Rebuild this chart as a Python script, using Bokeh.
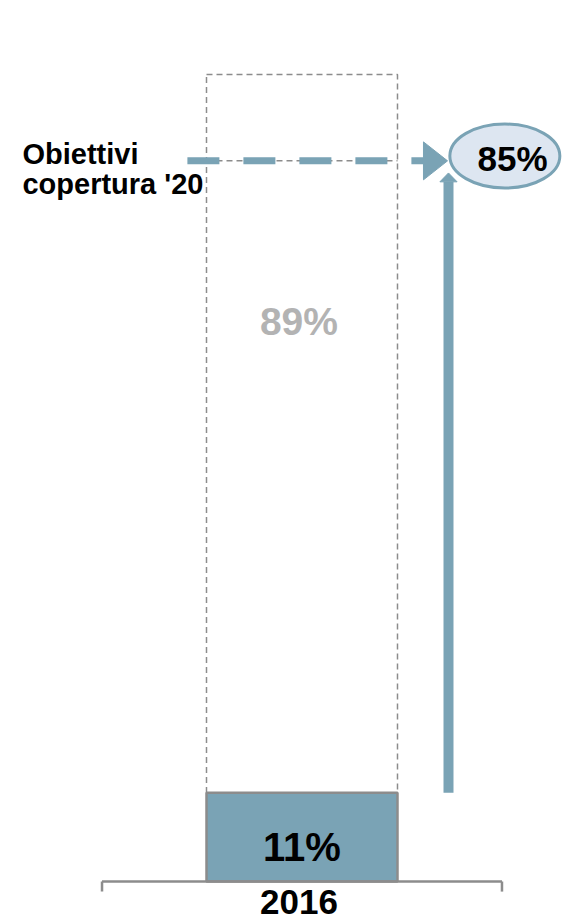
from bokeh.plotting import figure
from bokeh.models import Range1d
from bokeh.embed import file_html
from bokeh.resources import INLINE
from bokeh.core.properties import value

# ---------------- data ----------------
categories = ["2016"]
covered = [11]            # % coperto 2016
remaining = [89]          # % da coprire
target = [85]             # obiettivo copertura 2020
covered_labels = ["11%"]
remaining_labels = ["89%"]
target_labels = ["85%"]
side_label = ["Obiettivi", "copertura '20"]

# ---------------- layout / style constants ----------------
W, H = 563, 922
FONT = value("Liberation Sans")
TEAL = "#7aa3b5"
GREY = "#8c8c8c"

BAR_X = 0.0
BAR_W = 1.0
TARGET_LINE_Y = 89.3      # drawn level of the target marker
AXIS_HALF = 1.047
TICK_LEN = 1.25
LINE_X0 = -0.60
HEAD_X0 = 0.636
HEAD_X1 = 0.762
HEAD_HALF = 2.35
VARROW_X = 0.767
VHEAD_BASE = 86.7
VHEAD_TIP = 87.8
VHEAD_HALF = 0.045
ELL_X, ELL_Y = 1.062, 89.9

p = figure(width=W, height=H, output_backend="svg", toolbar_location=None,
           x_range=Range1d(-1.5785, 1.3691), y_range=Range1d(-5.08, 109.17),
           min_border=0, outline_line_color=None)
p.axis.visible = False
p.grid.visible = False
p.background_fill_color = "white"
p.border_fill_color = "white"

# dashed outline of the remaining part
p.vbar(x=[BAR_X], bottom=covered, top=[c + r for c, r in zip(covered, remaining)],
       width=BAR_W, fill_alpha=0, line_color=GREY, line_width=1.5, line_dash="6 4")
# thin grey dashed line inside the box at the target level
p.segment(x0=[BAR_X - BAR_W / 2], x1=[BAR_X + BAR_W / 2], y0=[TARGET_LINE_Y], y1=[TARGET_LINE_Y],
          line_color=GREY, line_width=1.5, line_dash="6 4")

# filled covered bar
p.vbar(x=[BAR_X], bottom=[0], top=covered, width=BAR_W, fill_color=TEAL,
       line_color=GREY, line_width=2.5)

# baseline axis with end ticks
p.segment(x0=[-AXIS_HALF], x1=[AXIS_HALF], y0=[0], y1=[0], line_color=GREY, line_width=2.5)
p.segment(x0=[-AXIS_HALF, AXIS_HALF], x1=[-AXIS_HALF, AXIS_HALF], y0=[0, 0],
          y1=[-TICK_LEN, -TICK_LEN], line_color=GREY, line_width=2.5)

# target dashed arrow
p.segment(x0=[LINE_X0], x1=[HEAD_X0], y0=[TARGET_LINE_Y], y1=[TARGET_LINE_Y],
          line_color=TEAL, line_width=7, line_dash="32 24")
p.patch(x=[HEAD_X0, HEAD_X0, HEAD_X1], y=[TARGET_LINE_Y + HEAD_HALF, TARGET_LINE_Y - HEAD_HALF, TARGET_LINE_Y],
        fill_color=TEAL, line_color=TEAL, line_width=1)

# vertical arrow from covered to target
p.segment(x0=[VARROW_X], x1=[VARROW_X], y0=covered, y1=[VHEAD_BASE],
          line_color=TEAL, line_width=10)
p.patch(x=[VARROW_X - VHEAD_HALF, VARROW_X + VHEAD_HALF, VARROW_X], y=[VHEAD_BASE, VHEAD_BASE, VHEAD_TIP],
        fill_color=TEAL, line_color=TEAL, line_width=1)

# target ellipse
p.ellipse(x=[ELL_X], y=[ELL_Y], width=110, height=64, width_units="screen", height_units="screen",
          fill_color="#dde6f1", line_color=TEAL, line_width=3)

# texts
common = dict(text_font=FONT, text_font_style="bold", text_baseline="middle")
p.text(x=[1.102], y=[89.53], text=target_labels, text_font_size="35px", text_color="black",
       text_align="center", **common)
p.text(x=[-1.4634], y=[90.15], text=[side_label[0]], text_font_size="29px", text_color="black",
       text_align="left", **common)
p.text(x=[-1.4634], y=[86.37], text=[side_label[1]], text_font_size="29px", text_color="black",
       text_align="left", **common)
p.text(x=[BAR_X - 0.016], y=[69.39], text=remaining_labels, text_font_size="39px", text_color="#b3b3b3",
       text_align="center", **common)
p.text(x=[BAR_X], y=[4.28], text=covered_labels, text_font_size="40px", text_color="black",
       text_align="center", **common)
p.text(x=[BAR_X - 0.016], y=[-2.48], text=categories, text_font_size="35px", text_color="black",
       text_align="center", **common)

open("out.html", "w").write(file_html(p, INLINE))
